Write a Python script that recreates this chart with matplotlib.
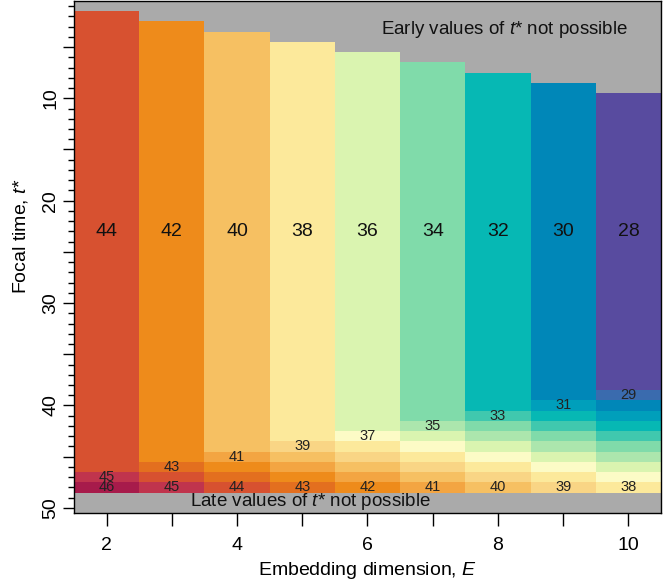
import numpy as np
import matplotlib
matplotlib.use('Agg')
import matplotlib.pyplot as plt
from matplotlib.colors import ListedColormap, BoundaryNorm

plt.rcParams['font.family'] = ['Liberation Sans', 'DejaVu Sans']
plt.rcParams['mathtext.fontset'] = 'custom'
plt.rcParams['mathtext.rm'] = 'Liberation Sans'
plt.rcParams['mathtext.it'] = 'Liberation Sans:italic'

# embedding dimension E and the focal times t* that are possible for it
embed_dim = [2, 3, 4, 5, 6, 7, 8, 9, 10]
first_tstar = [2, 3, 4, 5, 6, 7, 8, 9, 10]
last_tstar = 48

# count in the flat upper block of each column
block_count = [44, 42, 40, 38, 36, 34, 32, 30, 28]
# counts for the final focal times of each column
tail_count = [
    [45, 46],
    [43, 44, 45],
    [41, 42, 43, 44],
    [39, 40, 41, 42, 43],
    [37, 38, 39, 40, 41, 42],
    [35, 36, 37, 38, 39, 40, 41],
    [33, 34, 35, 36, 37, 38, 39, 40],
    [31, 32, 33, 34, 35, 36, 37, 38, 39],
    [29, 30, 31, 32, 33, 34, 35, 36, 37, 38],
]

# one colour per count, 28 .. 46
count_levels = list(range(28, 47))
count_colors = ['#584B9F', '#3A6BAE', '#0087B8', '#009FBB', '#06B8B4',
                '#40C8AE', '#80DBAA', '#ACE6AD', '#DAF4B0', '#FCFBC6',
                '#FCE99B', '#F9D585', '#F6C062', '#F3A542', '#EE8B1B',
                '#E36F1F', '#D75130', '#C0344D', '#A71B4B']

xtick_labels = ['2', '', '4', '', '6', '', '8', '', '10']
ytick_pos = [5, 10, 15, 20, 25, 30, 35, 40, 45, 50]
ytick_labels = ['', '10', '', '20', '', '30', '', '40', '', '50']

# build the grid of counts (rows t* = 2..48, one column per E)
tstar = np.arange(min(first_tstar), last_tstar + 1)
grid = np.full((len(tstar), len(embed_dim)), np.nan)
for j in range(len(embed_dim)):
  tail = tail_count[j]
  tail_start = last_tstar - len(tail) + 1
  for i, t in enumerate(tstar):
    if t < first_tstar[j]:
      continue
    if t < tail_start:
      grid[i, j] = block_count[j]
    else:
      grid[i, j] = tail[t - tail_start]
grid = np.ma.masked_invalid(grid)

cmap = ListedColormap(count_colors)
bounds = np.array(count_levels + [count_levels[-1] + 1]) - 0.5
norm = BoundaryNorm(bounds, cmap.N)

fig = plt.figure(figsize=(6.64, 5.83), dpi=100)
ax = fig.add_axes([74 / 664, 70 / 583, 587 / 664, 512 / 583])
ax.set_facecolor('#AAAAAA')

x_edges = np.arange(embed_dim[0] - 0.5, embed_dim[-1] + 1)
y_edges = np.arange(tstar[0] - 0.5, tstar[-1] + 1)
ax.pcolormesh(x_edges, y_edges, grid, cmap=cmap, norm=norm,
              edgecolors='none', antialiased=False)

# labels inside the cells
for j, e in enumerate(embed_dim):
  ax.text(e, 23, str(block_count[j]), ha='center', va='center', fontsize=14, color='#111111')
  tail = tail_count[j]
  tail_start = last_tstar - len(tail) + 1
  ax.text(e, tail_start, str(tail[0]), ha='center', va='center', fontsize=10.5, color='#222222')
  ax.text(e, last_tstar, str(tail[-1]), ha='center', va='center', fontsize=10.5, color='#222222')

ax.text(8.1, 3.3, 'Early values of $t$* not possible', ha='center', va='center', fontsize=13.5, color='#111111')
ax.text(5.12, 49.4, 'Late values of $t$* not possible', ha='center', va='center', fontsize=13.5, color='#111111')

ax.set_xlim(1.5, 10.5)
ax.set_ylim(50.5, 0.5)

ax.set_xticks(embed_dim)
ax.set_xticklabels(xtick_labels)
ax.set_yticks(ytick_pos)
ax.set_yticklabels(ytick_labels, rotation=90, va='center')
ax.set_yticks(np.arange(1, 51), minor=True)
ax.tick_params(axis='x', length=9.4, width=1, pad=8, labelsize=14)
ax.tick_params(axis='y', which='major', length=8, width=1, pad=2.5, labelsize=14)
ax.tick_params(axis='y', which='minor', length=4, width=1)

for s in ax.spines.values():
  s.set_linewidth(1.0)

ax.set_xlabel('Embedding dimension, $E$', fontsize=14, labelpad=4)
ax.set_ylabel('Focal time, $t$*', fontsize=14)
ax.yaxis.set_label_coords(-0.075, 0.54)

fig.savefig('out.png', dpi=100)
